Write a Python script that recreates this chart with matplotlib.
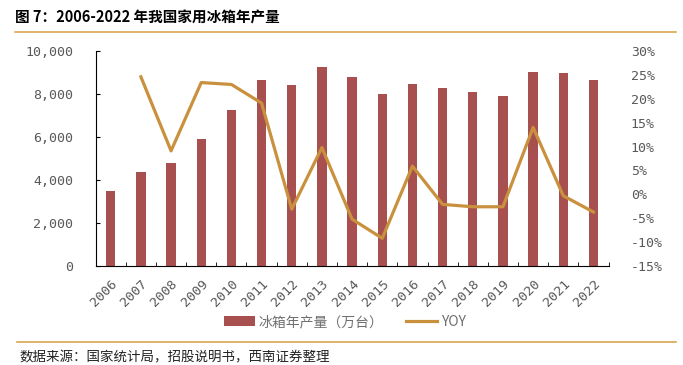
import numpy as np
import matplotlib.pyplot as plt
from matplotlib.lines import Line2D

plt.rcParams['font.family'] = ['Noto Sans CJK SC', 'DejaVu Sans']

# 数据
years = ['2006', '2007', '2008', '2009', '2010', '2011', '2012', '2013', '2014',
         '2015', '2016', '2017', '2018', '2019', '2020', '2021', '2022']
output = [3500, 4350, 4790, 5910, 7270, 8670, 8400, 9240, 8790,
          8000, 8450, 8280, 8110, 7890, 9010, 8960, 8670]
yoy = [np.nan, 24.6, 9.1, 23.4, 23.0, 19.1, -3.1, 9.8, -5.2,
       -9.2, 5.9, -2.1, -2.6, -2.6, 14.0, -0.3, -3.7]

bar_color = '#A84F4F'
line_color = '#C9913E'
gold = '#D9A652'
grey = '#595959'
mono = 'DejaVu Sans Mono'

fig = plt.figure(figsize=(6.83, 3.65), dpi=100)
ax = fig.add_axes([0.140, 0.2712, 0.751, 0.589])
x = np.arange(len(years))

bars = ax.bar(x, output, width=0.31, color=bar_color, label='冰箱年产量（万台）')
ax.set_xlim(-0.5, len(years) - 0.5)
ax.set_ylim(0, 10000)
ax.set_yticks(np.arange(0, 10001, 2000))
ax.set_yticklabels([f'{v:,}' for v in range(0, 10001, 2000)],
                   fontfamily=mono, fontsize=9.5, color=grey)
ax.set_xticks(x)
ax.set_xticklabels(years, rotation=45, ha='right', rotation_mode='anchor',
                   fontfamily=mono, fontsize=9.5, color=grey)
ax.set_xticks(np.arange(-0.5, len(years)), minor=True)
ax.tick_params(axis='x', which='major', length=0, pad=8)
ax.tick_params(axis='x', which='minor', direction='in', length=3)
ax.tick_params(axis='y', direction='in', length=3, pad=16)
ax.spines['top'].set_visible(False)
ax.spines['right'].set_visible(False)

ax2 = ax.twinx()
line, = ax2.plot(x, yoy, color=line_color, lw=2.3, label='YOY')
ax2.set_ylim(-15, 30)
ax2.set_yticks(np.arange(-15, 31, 5))
ax2.set_yticklabels([f'{v}%' for v in range(-15, 31, 5)],
                    fontfamily=mono, fontsize=9.5, color=grey)
ax2.tick_params(axis='y', length=0, pad=16)
for s in ['top', 'right', 'left', 'bottom']:
    ax2.spines[s].set_visible(False)

fig.legend(handles=[bars, line], labels=['冰箱年产量（万台）', 'YOY'],
           loc='center', bbox_to_anchor=(0.505, 0.118), ncol=2, frameon=False,
           fontsize=10, labelcolor='#6f6f6f', handlelength=2.2, columnspacing=1.6,
           handletextpad=0.3)

# 标题和来源
fig.text(0.022, 0.953, '图 7：2006-2022 年我国家用冰箱年产量', fontsize=10.5,
         fontweight='bold', va='center', ha='left')
fig.add_artist(Line2D([0.022, 0.99], [0.911, 0.911], color=gold, lw=1.2))
fig.add_artist(Line2D([0.025, 0.99], [0.063, 0.063], color=gold, lw=1.2))
fig.text(0.028, 0.022, '数据来源：国家统计局，招股说明书，西南证券整理', fontsize=9.7,
         style='italic', va='center', ha='left', color='#222222')

fig.savefig('out.png', dpi=100)
